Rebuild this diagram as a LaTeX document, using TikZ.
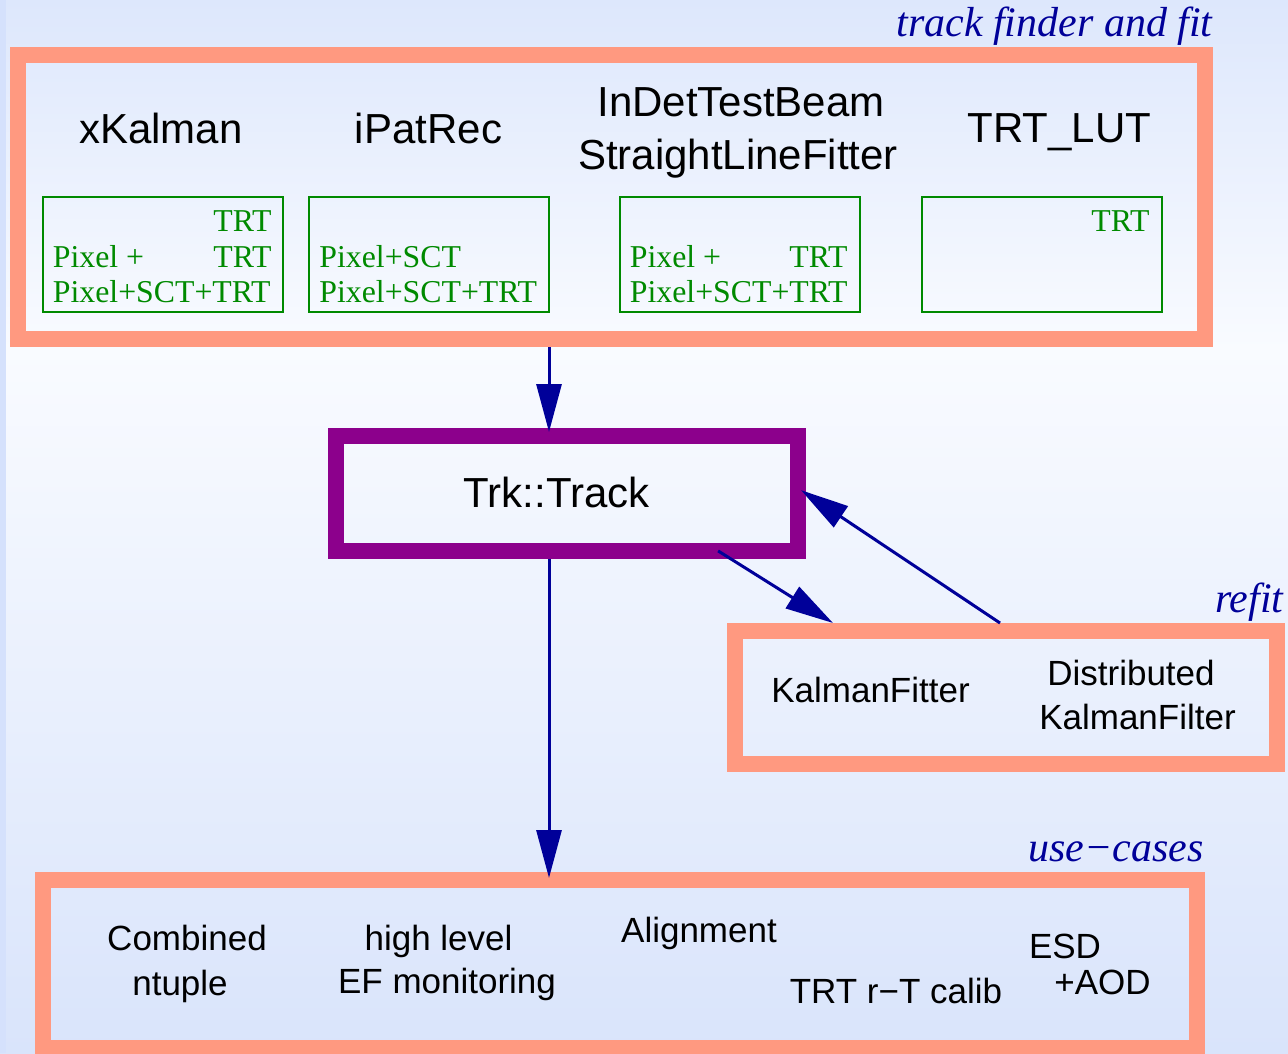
\documentclass[tikz,border=0pt]{standalone}
\usepackage{fontspec}
\setmainfont{Liberation Serif}
\setsansfont{Liberation Sans}
\usepackage{tikz}
\usetikzlibrary{arrows.meta, positioning, calc}
\definecolor{bgblue}{HTML}{DDE7FC}
\definecolor{bgwhite}{HTML}{F9FBFF}
\definecolor{bgbottom}{HTML}{D9E4FB}
\definecolor{bgstrip}{HTML}{D5E1FC}
\definecolor{framesalmon}{HTML}{FF9980}
\definecolor{trkpurple}{HTML}{8C008C}
\definecolor{flownavy}{HTML}{000099}
\definecolor{fitgreen}{HTML}{008A00}
\tikzset{
  % Thick coloured frames
  frame/.style={
    rectangle, draw=#1, line width=8pt, inner sep=0pt,
  },
  frame/.default={framesalmon},
  % Small green boxes with detector combinations
  detbox/.style={
    rectangle, draw=fitgreen, line width=1pt, inner sep=0pt,
    minimum width=120pt, minimum height=57.5pt,
  },
  dettext/.style={font=\fontsize{15.9}{17.5}\selectfont, text=fitgreen, inner sep=0pt},
  % Tool names
  toolname/.style={font=\fontsize{21}{26}\selectfont\sffamily, text=black, inner sep=0pt, anchor=base},
  usename/.style={font=\fontsize{17.5}{22}\selectfont\sffamily, text=black, inner sep=0pt, anchor=base},
  % Frame titles
  frametitle/.style={font=\fontsize{21}{26}\selectfont\itshape, text=flownavy, inner sep=0pt, anchor=base east},
  % Arrows
  flow/.style={-{Triangle[length=24pt, width=12.5pt]}, line width=1.5pt, draw=flownavy, fill=flownavy},
}

\begin{document}
\begin{tikzpicture}[x=0.5pt, y=-0.5pt]

  % Background
  \useasboundingbox (0,0) rectangle (1288,1053);
  \shade[top color=bgblue, bottom color=bgwhite] (0,0) rectangle (1288,350);
  \shade[top color=bgwhite, bottom color=bgbottom] (0,349) rectangle (1288,1053);
  \fill[bgstrip] (0,0) rectangle (6,1053);

  % Track finder and fit
  \node[frame, minimum width=593.5pt, minimum height=142pt] (fit-frame) at (611.5,197) {};
  \node[frametitle] (fit-title) at (1213,37) {track finder and fit};

  \node[toolname] (xkalman) at (161,144) {xKalman};
  \node[toolname] (ipatrec) at (428.5,144) {iPatRec};
  \node[toolname] (indet-a) at (741,117) {InDetTestBeam};
  \node[toolname] (indet-b) at (738,170) {StraightLineFitter};
  \node[toolname] (trtlut) at (1059.5,143) {TRT\_LUT};

  \node[detbox] (xkalman-box) at (163,254.5) {};
  \node[dettext, anchor=base east] (xk-1) at (272,232) {TRT};
  \node[dettext, anchor=base west] (xk-2) at (52.5,268) {Pixel +};
  \node[dettext, anchor=base east] (xk-3) at (272,268) {TRT};
  \node[dettext, anchor=base west] (xk-4) at (52.5,302) {Pixel+SCT+TRT};

  \node[detbox] (ipatrec-box) at (429,254.5) {};
  \node[dettext, anchor=base west] (ip-1) at (319,268) {Pixel+SCT};
  \node[dettext, anchor=base west] (ip-2) at (319,302) {Pixel+SCT+TRT};

  \node[detbox] (indet-box) at (740,254.5) {};
  \node[dettext, anchor=base west] (in-1) at (629.5,268) {Pixel +};
  \node[dettext, anchor=base east] (in-2) at (848,268) {TRT};
  \node[dettext, anchor=base west] (in-3) at (629.5,302) {Pixel+SCT+TRT};

  \node[detbox] (trtlut-box) at (1042,254.5) {};
  \node[dettext, anchor=base east] (lut-1) at (1150,232) {TRT};

  % Trk::Track
  \node[frame=trkpurple, minimum width=231pt, minimum height=57.5pt] (trk-box) at (567,493.5) {};
  \node[toolname] (trk-label) at (556.5,507) {Trk::Track};

  % Refit
  \node[frame, minimum width=271pt, minimum height=66.5pt] (refit-frame) at (1006,697.5) {};
  \node[frametitle] (refit-title) at (1284,612) {refit};
  \node[usename] (kfitter) at (870.5,702) {KalmanFitter};
  \node[usename] (dkf-a) at (1131,685) {Distributed};
  \node[usename] (dkf-b) at (1137.5,729) {KalmanFilter};

  % Use-cases
  \node[frame, minimum width=577pt, minimum height=84pt] (use-frame) at (620,964) {};
  \node[frametitle] (use-title) at (1204,861) {use−cases};
  \node[usename] (comb-a) at (187,950) {Combined};
  \node[usename] (comb-b) at (180,995) {ntuple};
  \node[usename] (ef-a) at (438.5,950) {high level};
  \node[usename] (ef-b) at (447,993) {EF monitoring};
  \node[usename] (align) at (699,942) {Alignment};
  \node[usename] (trtcalib) at (896,1003) {TRT r−T calib};
  \node[usename] (esd-a) at (1065,958) {ESD};
  \node[usename] (esd-b) at (1102.5,994) {+AOD};

  % Connections
  \coordinate (col-main) at (549,0);
  \coordinate (col-out) at (731,0);
  \coordinate (col-in) at (833,0);
  \draw[flow, shorten >=-2pt] (fit-frame.south -| col-main) -- (trk-box.north -| col-main);
  \draw[flow, shorten >=-3pt] (trk-box.south -| col-main) -- (use-frame.north -| col-main);
  \draw[flow, shorten <=-7.6pt] (trk-box.south -| col-out) -- (refit-frame.north -| col-in);
  \draw[flow, shorten >=-3pt] (refit-frame.north -| 1000,0) -- (trk-box.east);

\end{tikzpicture}
\end{document}
